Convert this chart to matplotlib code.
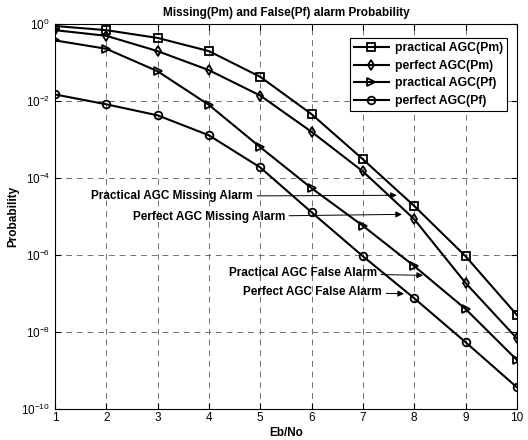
import numpy as np
import matplotlib
matplotlib.use("Agg")
import matplotlib.pyplot as plt

plt.rcParams['font.family'] = ['Liberation Sans', 'DejaVu Sans']

ebno = [1, 2, 3, 4, 5, 6, 7, 8, 9, 10]
practical_pm = [0.9, 0.7, 0.44, 0.2, 0.043, 4.6e-3, 3.1e-4, 1.9e-5, 9.4e-7, 2.8e-8]
perfect_pm = [0.7, 0.5, 0.2, 0.064, 0.014, 1.6e-3, 1.5e-4, 8.6e-6, 1.9e-7, 6.9e-9]
practical_pf = [0.38, 0.23, 0.06, 8e-3, 6.4e-4, 5.5e-5, 5.8e-6, 5.2e-7, 4e-8, 1.9e-9]
perfect_pf = [0.015, 8.3e-3, 4.3e-3, 1.3e-3, 1.9e-4, 1.3e-5, 9.4e-7, 7.6e-8, 5.5e-9, 3.7e-10]

series = [
    (practical_pm, 's', 'practical AGC(Pm)'),
    (perfect_pm, 'd', 'perfect AGC(Pm)'),
    (practical_pf, '>', 'practical AGC(Pf)'),
    (perfect_pf, 'o', 'perfect AGC(Pf)'),
]

# notes: (text, text pos, arrow tip)
notes = [
    ("Practical AGC Missing Alarm", (4.86, 3.4e-5), (7.66, 3.6e-5)),
    ("Perfect AGC Missing Alarm", (5.48, 1.0e-5), (7.76, 1.15e-5)),
    ("Practical AGC False Alarm", (7.27, 3.4e-7), (8.17, 3.0e-7)),
    ("Perfect AGC False Alarm", (7.37, 1.1e-7), (7.80, 1.0e-7)),
]

fig = plt.figure(figsize=(5.28, 4.40), dpi=100)
ax = fig.add_axes([0.104, 0.070, 0.875, 0.875])

for vals, mk, lab in series:
    ax.semilogy(ebno, vals, color='black', lw=1.5, marker=mk, markersize=5.5,
                markerfacecolor='none', markeredgecolor='black', markeredgewidth=1.3,
                label=lab)

for txt, pos, tip in notes:
    ax.annotate(txt, xy=tip, xytext=pos, ha='right', va='center',
                fontsize=8.5, fontweight='bold',
                arrowprops=dict(arrowstyle='-|>', color='black', lw=0.7,
                                shrinkA=1, shrinkB=0, mutation_scale=9))

ax.set_xlim(1, 10)
ax.set_ylim(1e-10, 1)
ax.set_xticks(ebno)
ax.set_yticks([1e0, 1e-2, 1e-4, 1e-6, 1e-8, 1e-10])
ax.minorticks_off()
ax.grid(True, which='major', color='#707070', linestyle=(0, (6, 5)), lw=0.7)
ax.tick_params(direction='in', labelsize=8.5, length=4, top=True, right=True)
ax.tick_params(axis='x', pad=2)
for s in ax.spines.values():
    s.set_linewidth(0.8)

ax.set_title("Missing(Pm) and False(Pf) alarm Probability", fontsize=8.5,
             fontweight='bold', pad=6)
ax.set_xlabel("Eb/No", fontsize=8.5, fontweight='bold', labelpad=2)
ax.set_ylabel("Probability", fontsize=8.5, fontweight='bold', labelpad=1)

leg = ax.legend(loc='upper right', bbox_to_anchor=(0.992, 0.98),
                prop={'weight': 'bold', 'size': 8.8}, fancybox=False,
                edgecolor='black', framealpha=1, borderpad=0.35,
                labelspacing=0.45, handlelength=2.8, handletextpad=0.5)
leg.get_frame().set_linewidth(0.8)

fig.savefig("out.png", dpi=100)
